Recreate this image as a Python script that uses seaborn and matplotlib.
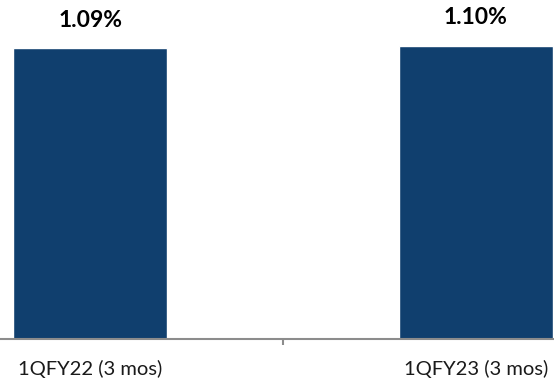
import matplotlib
matplotlib.use('Agg')
import matplotlib.pyplot as plt
import seaborn as sns
import pandas as pd

# Data
periods = ['1QFY22 (3 mos)', '1QFY23 (3 mos)']
ratios = [1.09, 1.10]
value_labels = ['1.09%', '1.10%']

df = pd.DataFrame({'period': periods, 'ratio': ratios})

sns.set_theme(style='white')
plt.rcParams['font.family'] = ['Lato', 'DejaVu Sans']

fig = plt.figure(figsize=(5.54, 3.81), dpi=100)
ax = fig.add_axes([0, 42 / 381, 1, 339 / 381])

sns.barplot(data=df, x='period', y='ratio', color='#103F6E', width=0.4,
            saturation=1, ax=ax)

ax.set_xlim(-0.234, 1.203)
ax.set_ylim(0, 1.271)

# Value labels above bars
for i, (v, lab) in enumerate(zip(ratios, value_labels)):
    ax.annotate(lab, (i, v), xytext=(0, 12.5), textcoords='offset points',
                ha='center', va='bottom', fontsize=16.5, fontweight='bold',
                color='black', annotation_clip=False)

for s in ['top', 'right', 'left']:
    ax.spines[s].set_visible(False)
ax.spines['bottom'].set_color('#8c8c8c')
ax.spines['bottom'].set_linewidth(1.5)

ax.set_yticks([])
ax.set_xlabel('')
ax.set_ylabel('')
ax.tick_params(axis='x', which='major', length=0, pad=15, labelsize=14.5,
               labelcolor='#1a1a1a')
ax.set_xticks([0.5], minor=True)
ax.tick_params(axis='x', which='minor', length=4.5, width=1.5, color='#8c8c8c',
               direction='out', bottom=True)

fig.savefig('out.png', dpi=100)
